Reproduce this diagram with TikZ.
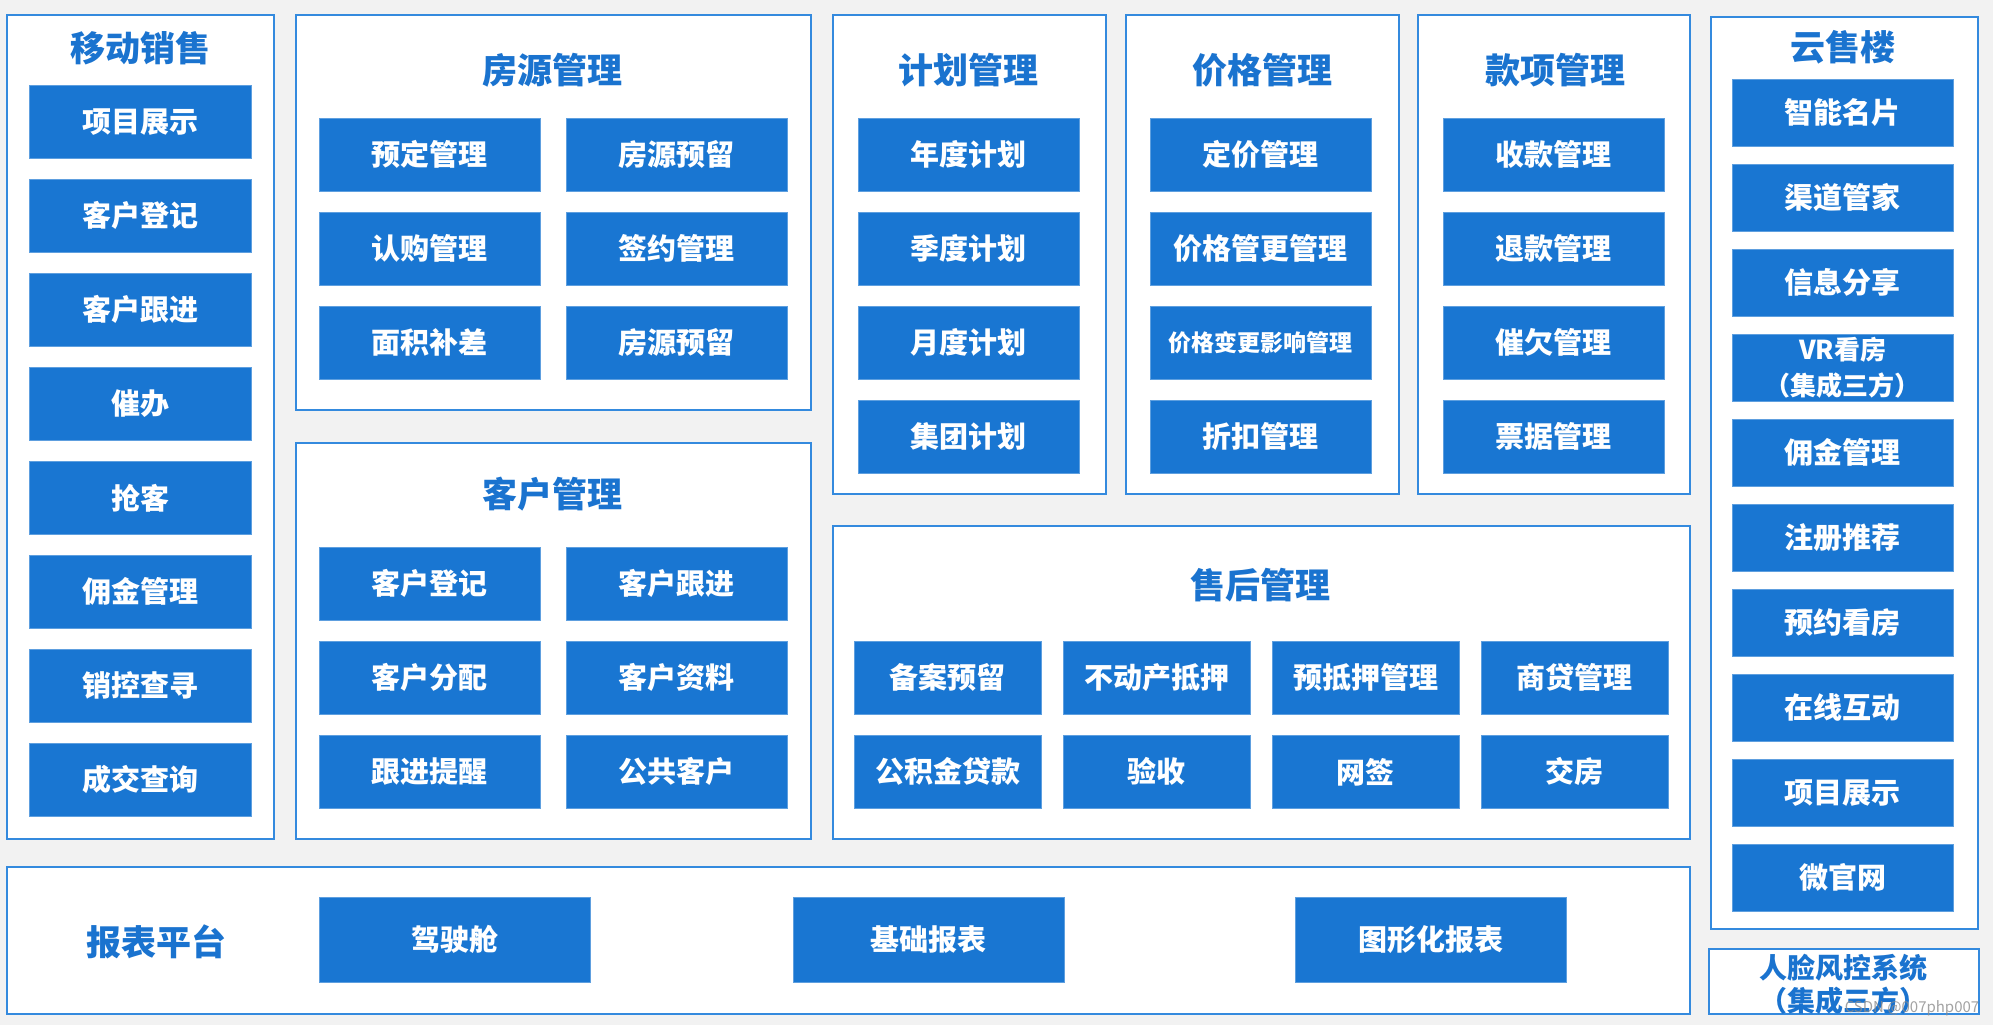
\documentclass[tikz,border=0pt]{standalone}
\usepackage{fontspec}
\setmainfont{Noto Sans CJK SC}[BoldFont={Noto Sans CJK SC Black}]
\definecolor{bg}{RGB}{242,242,242}
\definecolor{fillblue}{RGB}{25,118,210}
\definecolor{edgeblue}{RGB}{52,138,222}
\definecolor{titleblue}{RGB}{26,115,207}
\tikzset{
  panel/.style={draw=edgeblue, line width=1.6pt, fill=white, inner sep=0pt, anchor=north west},
  item/.style={fill=fillblue, draw=fillblue!70!white, line width=0.6pt, text=white, inner sep=0pt, anchor=north west, font=\bfseries\fontsize{29}{34}\selectfont, align=center},
  ttl/.style={text=titleblue, inner sep=0pt, font=\bfseries\fontsize{35}{40}\selectfont, align=center},
}
\newcommand\itm[6]{\node[item,minimum width=#4pt,minimum height=#5pt] (#1) at (#2,#3) {#6};}
\newcommand\pnl[5]{\node[panel,minimum width=#4pt,minimum height=#5pt] (#1) at (#2,#3) {};}
\begin{document}
\begin{tikzpicture}[x=1pt,y=-1pt]
\fill[bg] (0,0) rectangle (1993,1025);
\useasboundingbox (0,0) rectangle (1993,1025);
% panels
\pnl{pyd}{6}{14}{267}{824}
\pnl{pfy}{295}{14}{515}{395}
\pnl{pkh}{295}{442}{515}{396}
\pnl{pjh}{832}{14}{273}{479}
\pnl{pjg}{1125}{14}{273}{479}
\pnl{pkx}{1417}{14}{272}{479}
\pnl{psh}{832}{525}{857}{313}
\pnl{pys}{1710}{16}{267}{912}
\pnl{pbb}{6}{866}{1683}{147}
\pnl{prl}{1708}{948}{270}{65}
% titles
\node[ttl] (tyd) at (140,48) {移动销售};
\node[ttl] (tfy) at (552,70) {房源管理};
\node[ttl] (tkh) at (552,494) {客户管理};
\node[ttl] (tjh) at (968,70) {计划管理};
\node[ttl] (tjg) at (1262,70) {价格管理};
\node[ttl] (tkx) at (1555,70) {款项管理};
\node[ttl] (tsh) at (1260,585) {售后管理};
\node[ttl] (tys) at (1843,47) {云售楼};
\node[ttl] (tbb) at (156,942) {报表平台};
\node[ttl, font=\bfseries\fontsize{28}{33}\selectfont] (trl) at (1843,984) {人脸风控系统\\（集成三方）};
% 移动销售
\itm{a1}{29}{85}{222}{73}{项目展示}
\itm{a2}{29}{179}{222}{73}{客户登记}
\itm{a3}{29}{273}{222}{73}{客户跟进}
\itm{a4}{29}{367}{222}{73}{催办}
\itm{a5}{29}{461}{222}{73}{抢客}
\itm{a6}{29}{555}{222}{73}{佣金管理}
\itm{a7}{29}{649}{222}{73}{销控查寻}
\itm{a8}{29}{743}{222}{73}{成交查询}
% 房源管理
\itm{b1}{319}{118}{221}{73}{预定管理}
\itm{b2}{566}{118}{221}{73}{房源预留}
\itm{b3}{319}{212}{221}{73}{认购管理}
\itm{b4}{566}{212}{221}{73}{签约管理}
\itm{b5}{319}{306}{221}{73}{面积补差}
\itm{b6}{566}{306}{221}{73}{房源预留}
% 客户管理
\itm{c1}{319}{547}{221}{73}{客户登记}
\itm{c2}{566}{547}{221}{73}{客户跟进}
\itm{c3}{319}{641}{221}{73}{客户分配}
\itm{c4}{566}{641}{221}{73}{客户资料}
\itm{c5}{319}{735}{221}{73}{跟进提醒}
\itm{c6}{566}{735}{221}{73}{公共客户}
% 计划管理
\itm{d1}{858}{118}{221}{73}{年度计划}
\itm{d2}{858}{212}{221}{73}{季度计划}
\itm{d3}{858}{306}{221}{73}{月度计划}
\itm{d4}{858}{400}{221}{73}{集团计划}
% 价格管理
\itm{e1}{1150}{118}{221}{73}{定价管理}
\itm{e2}{1150}{212}{221}{73}{价格管更管理}
\node[item,minimum width=221pt,minimum height=73pt,font=\bfseries\fontsize{23}{28}\selectfont] (e3) at (1150,306) {价格变更影响管理};
\itm{e4}{1150}{400}{221}{73}{折扣管理}
% 款项管理
\itm{f1}{1443}{118}{221}{73}{收款管理}
\itm{f2}{1443}{212}{221}{73}{退款管理}
\itm{f3}{1443}{306}{221}{73}{催欠管理}
\itm{f4}{1443}{400}{221}{73}{票据管理}
% 售后管理
\itm{g1}{854}{641}{187}{73}{备案预留}
\itm{g2}{1063}{641}{187}{73}{不动产抵押}
\itm{g3}{1272}{641}{187}{73}{预抵押管理}
\itm{g4}{1481}{641}{187}{73}{商贷管理}
\itm{g5}{854}{735}{187}{73}{公积金贷款}
\itm{g6}{1063}{735}{187}{73}{验收}
\itm{g7}{1272}{735}{187}{73}{网签}
\itm{g8}{1481}{735}{187}{73}{交房}
% 云售楼
\itm{h1}{1732}{79}{221}{67}{智能名片}
\itm{h2}{1732}{164}{221}{67}{渠道管家}
\itm{h3}{1732}{249}{221}{67}{信息分享}
\node[item,minimum width=221pt,minimum height=67pt,font=\bfseries\fontsize{26}{36}\selectfont] (h4) at (1732,334) {VR看房\\（集成三方）};
\itm{h5}{1732}{419}{221}{67}{佣金管理}
\itm{h6}{1732}{504}{221}{67}{注册推荐}
\itm{h7}{1732}{589}{221}{67}{预约看房}
\itm{h8}{1732}{674}{221}{67}{在线互动}
\itm{h9}{1732}{759}{221}{67}{项目展示}
\itm{h10}{1732}{844}{221}{67}{微官网}
% 报表平台
\itm{r1}{319}{897}{271}{85}{驾驶舱}
\itm{r2}{793}{897}{271}{85}{基础报表}
\itm{r3}{1295}{897}{271}{85}{图形化报表}
% watermark
\node[text=black!45, opacity=0.8, inner sep=0pt, font=\fontsize{15}{18}\selectfont] (wm) at (1912,1008) {CSDN @007php007};
\end{tikzpicture}
\end{document}
